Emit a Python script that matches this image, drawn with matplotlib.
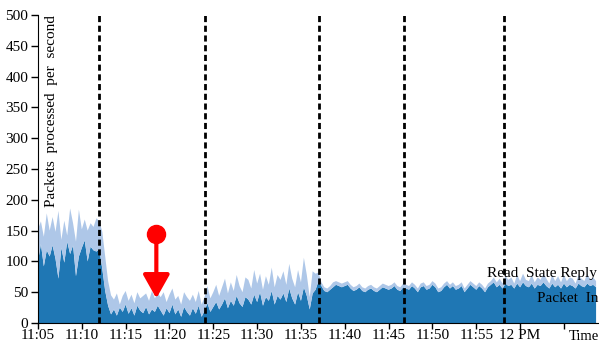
import numpy as np
import matplotlib
matplotlib.use("Agg")
import matplotlib.pyplot as plt

# minutes after 11:05, one sample every 20 s
STEP = 1 / 3

packet_in = [
    100, 128, 92, 118, 108, 126,
    104, 72, 122, 98, 132, 112,
    126, 76, 108, 122, 134, 100,
    124, 118, 116, 120, 88, 52,
    28, 14, 22, 12, 25, 18,
    30, 15, 24, 12, 28, 20,
    16, 26, 14, 22, 18, 28,
    20, 12, 24, 16, 30, 14,
    22, 10, 26, 18, 12, 24,
    15, 28, 10, 20, 32, 18,
    26, 34, 22, 30, 40, 24,
    36, 28, 44, 32, 26, 42,
    38, 30, 46, 34, 50, 28,
    42, 36, 52, 30, 44, 38,
    48, 34, 56, 40, 30, 50,
    36, 58, 44, 22, 48, 54,
    68, 60, 52, 50, 54, 58,
    62, 60, 58, 60, 62, 56,
    52, 54, 58, 52, 50, 54,
    56, 52, 50, 54, 58, 56,
    54, 56, 60, 54, 52, 58,
    56, 54, 60, 56, 50, 58,
    60, 54, 56, 62, 58, 50,
    52, 58, 62, 56, 60, 54,
    56, 60, 50, 56, 62, 58,
    54, 60, 56, 50, 58, 62,
    66, 58, 62, 56, 64, 60,
    62, 56, 64, 58, 66, 60,
    58, 64, 56, 62, 60, 66,
    60, 56, 64, 58, 62, 56,
    64, 58, 62, 60, 56, 64,
    60, 58, 64, 60, 62, 58,
]

# top of the stack (packet in + read state reply)
total = [
    152, 165, 140, 178, 150, 172,
    148, 182, 135, 166, 142, 186,
    162, 132, 184, 152, 168, 150,
    162, 156, 170, 165, 148, 108,
    68, 45, 38, 48, 30, 44,
    52, 36, 46, 32, 50, 40,
    44, 48, 36, 52, 40, 48,
    42, 50, 34, 46, 56, 38,
    44, 30, 50, 42, 36, 46,
    34, 52, 30, 42, 60, 40,
    50, 62, 44, 58, 72, 48,
    66, 52, 78, 60, 50, 74,
    70, 56, 86, 64, 80, 54,
    76, 62, 90, 58, 78, 70,
    84, 62, 96, 72, 58, 86,
    66, 106, 78, 42, 84, 80,
    82, 66, 58, 56, 60, 66,
    68, 66, 64, 66, 68, 62,
    58, 60, 64, 58, 56, 60,
    62, 58, 56, 60, 64, 62,
    60, 62, 66, 60, 58, 64,
    62, 60, 66, 62, 56, 64,
    66, 60, 62, 68, 64, 56,
    58, 64, 68, 62, 66, 60,
    62, 66, 56, 62, 68, 64,
    60, 66, 62, 56, 64, 68,
    74, 66, 72, 64, 76, 70,
    74, 64, 78, 68, 80, 70,
    68, 78, 66, 74, 70, 80,
    72, 64, 78, 68, 76, 66,
    78, 68, 74, 72, 64, 78,
    72, 68, 80, 70, 74, 68,
]

events = [7.0, 19.05, 32.1, 41.7, 53.2]
marker_time = 13.5
marker_from = 145
marker_to = 40

tick_minutes = [0, 5, 10, 15, 20, 25, 30, 35, 40, 45, 50, 55, 60]
tick_labels = ["11:05", "11:10", "11:15", "11:20", "11:25", "11:30", "11:35",
               "11:40", "11:45", "11:50", "11:55", "12 PM", ""]

plt.rcParams["font.family"] = ["Liberation Serif", "DejaVu Serif"]

t = np.arange(len(packet_in)) * STEP
pi = np.array(packet_in)
read_state = np.array(total) - pi

fig = plt.figure(figsize=(5.99, 3.44), dpi=100)
ax = fig.add_axes([38 / 599, 21 / 344, 1 - 38 / 599, 308 / 344])

ax.stackplot(t, pi, read_state, colors=["#1f77b4", "#aec7e8"], linewidth=0)

for e in events:
    ax.axvline(e, color="black", linestyle=(0, (2.2, 1.3)), linewidth=2, zorder=3)

ax.annotate("", xy=(marker_time, marker_to), xytext=(marker_time, marker_from),
            arrowprops=dict(arrowstyle="-|>,head_width=0.45,head_length=0.8",
                            color="red", lw=3, mutation_scale=18,
                            shrinkA=0, shrinkB=0), zorder=5)
ax.plot([marker_time], [marker_from], "o", color="red", markersize=13, zorder=6)

ax.set_xlim(0, 64)
ax.set_ylim(0, 500)
ax.set_yticks(range(0, 501, 50))
ax.set_xticks(tick_minutes)
ax.set_xticklabels(tick_labels)
ax.tick_params(labelsize=11, length=5, width=1, direction="out", pad=2)
ax.tick_params(axis="x", length=4, pad=0.5)
ax.spines[["top", "right"]].set_visible(False)

ax.text(0.012, 1.0, "Packets  processed  per  second", transform=ax.transAxes,
        rotation=90, ha="left", va="top", fontsize=11)
ax.text(60.6, -11, "Time", ha="left", va="top", fontsize=10.5)
ax.text(63.8, 80, "Read  State Reply", ha="right", va="center", fontsize=11)
ax.text(63.9, 40, "Packet  In", ha="right", va="center", fontsize=11)

fig.savefig("out.png", dpi=100)
